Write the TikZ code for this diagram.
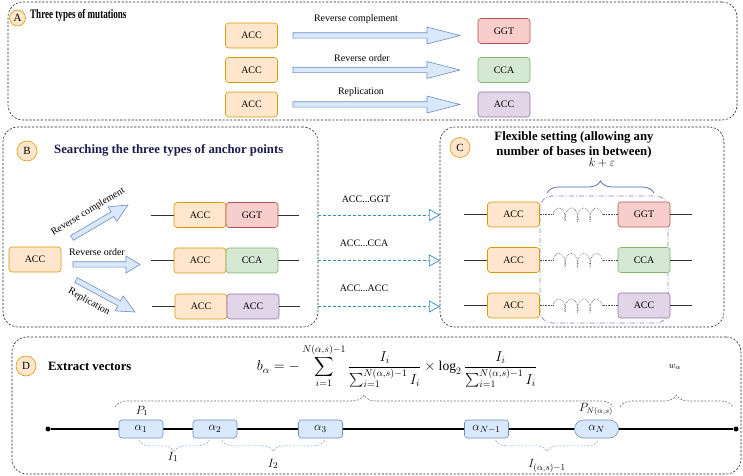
\documentclass[tikz,border=0pt]{standalone}
\usepackage{amsmath}
\usepackage{amssymb}
\usepackage{graphicx}
\usepackage{fontspec}
\setmainfont{Liberation Serif}
\usetikzlibrary{calc, arrows.meta, decorations.pathreplacing, decorations.pathmorphing}

\definecolor{accfill}{HTML}{FFE6CC}\definecolor{accdraw}{HTML}{D79B00}
\definecolor{ggtfill}{HTML}{F8CECC}\definecolor{ggtdraw}{HTML}{B85450}
\definecolor{ccafill}{HTML}{D5E8D4}\definecolor{ccadraw}{HTML}{82B366}
\definecolor{repfill}{HTML}{E1D5E7}\definecolor{repdraw}{HTML}{9673A6}
\definecolor{bluefill}{HTML}{DAE8FC}\definecolor{bluedraw}{HTML}{6C8EBF}
\definecolor{navy}{HTML}{1B1B4F}
\definecolor{hopblue}{HTML}{2F8FC4}
\definecolor{winblue}{HTML}{7A86CE}
\definecolor{kblue}{HTML}{4A5DBA}
\definecolor{lightbrace}{HTML}{8EA9DB}

% fat outlined arrow: tail, tip, head length
\newcommand{\fatarrow}[3]{%
  \coordinate (fa-h) at ($(#2)!#3!(#1)$);
  \draw[fat] ($(#1)!2.7bp!90:(#2)$) -- ($(fa-h)!2.7bp!90:(#2)$)
    -- ($(fa-h)!8.5bp!90:(#2)$) -- (#2) -- ($(fa-h)!8.5bp!-90:(#2)$)
    -- ($(fa-h)!2.7bp!-90:(#2)$) -- ($(#1)!2.7bp!-90:(#2)$) -- cycle;}

\begin{document}
\begin{tikzpicture}[x=1bp, y=-1bp,
  every node/.style={font=\fontsize{10}{12}\selectfont},
  panel/.style={draw=black!85, dash pattern=on 2.2pt off 1.6pt, line width=0.6pt,
    rounded corners=15bp, inner sep=0pt, outer sep=0pt},
  tag/.style={circle, draw=accdraw, fill=accfill, line width=0.6pt, minimum size=20bp,
    inner sep=0pt, font=\fontsize{11}{11}\selectfont},
  title/.style={anchor=west, inner sep=0pt, font=\fontsize{12.8}{15}\selectfont\bfseries},
  seq/.style={draw, rounded corners=3bp, line width=0.6pt, minimum width=52bp,
    minimum height=25bp, inner sep=0pt},
  acc/.style={seq, fill=accfill, draw=accdraw},
  ggt/.style={seq, fill=ggtfill, draw=ggtdraw},
  cca/.style={seq, fill=ccafill, draw=ccadraw},
  rep/.style={seq, fill=repfill, draw=repdraw},
  fat/.style={fill=bluefill, draw=bluedraw, line width=0.6pt},
  strand/.style={draw=black!80, line width=0.7pt},
  gap/.style={draw=black!70, line width=0.6pt, densely dotted},
  spring/.style={gap, decorate, decoration={coil, amplitude=6.5bp, segment length=12.5bp, aspect=0.45}},
  hop/.style={draw=hopblue, dash pattern=on 3pt off 2pt, line width=0.7pt,
    -{Triangle[open, length=11bp, width=12bp]}},
  window/.style={draw=winblue, line width=0.7pt, rounded corners=12bp,
    dash pattern=on 5pt off 2pt on 1pt off 2pt},
  kbrace/.style={draw=kblue, line width=0.7pt, decorate, decoration={brace, amplitude=12bp}},
  topbrace/.style={draw=black!55, line width=0.6pt, dash pattern=on 2pt off 1.5pt,
    decorate, decoration={brace, amplitude=12bp}},
  lowbrace/.style={draw=lightbrace, line width=0.6pt, dash pattern=on 2pt off 1.5pt,
    decorate, decoration={brace, mirror, amplitude=11bp}},
  site/.style={draw=bluedraw, fill=bluefill, line width=0.6pt, rounded corners=3bp,
    minimum width=44bp, minimum height=18bp, inner sep=0pt, font=\fontsize{13}{13}\selectfont},
  dot/.style={circle, fill=black, inner sep=0pt, minimum size=5bp},
  axis/.style={draw=black, line width=1.2pt},
  mlabel/.style={font=\fontsize{13}{13}\selectfont}]
\useasboundingbox (0,0) rectangle (743,476);

% panels
\node[panel, minimum width=729bp, minimum height=118bp] (pA) at (372.5,61) {};
\node[panel, minimum width=315bp, minimum height=200bp] (pB) at (160.5,227) {};
\node[panel, minimum width=284bp, minimum height=200bp] (pC) at (582,227) {};
\node[panel, minimum width=729bp, minimum height=137bp] (pD) at (376.5,405.5) {};

\node[tag, minimum size=16bp] (tA) at (17.5,18) {A};
\node[anchor=west, inner sep=0pt, font=\fontsize{13}{13}\selectfont\bfseries] (hA) at (30,15)
  {\scalebox{0.7}[1]{Three types of mutations}};
\node[tag] (tB) at (27,151) {B};
\node[title, text=navy] (hB) at (54,150) {Searching the three types of anchor points};
\node[tag] (tC) at (460,147.5) {C};
\node[title, anchor=center, align=center] (hC) at (574,144.5)
  {Flexible setting (allowing any\\number of bases in between)};
\node[tag] (tD) at (26,366) {D};
\node[title] (hD) at (48,366) {Extract vectors};

% A: three types of mutations
\node[acc] (a1l) at (251.5,35.5) {ACC};
\node[acc] (a2l) at (251.5,70) {ACC};
\node[acc] (a3l) at (251.5,104.5) {ACC};
\node[ggt] (a1r) at (504,31) {GGT};
\node[cca] (a2r) at (504,70) {CCA};
\node[rep] (a3r) at (504,104.5) {ACC};
\coordinate (a1s) at (293,35.5); \coordinate (a1t) at (460,35.5);
\coordinate (a2s) at (293,70); \coordinate (a2t) at (460,70);
\coordinate (a3s) at (293,104.5); \coordinate (a3t) at (460,104.5);
\fatarrow{a1s}{a1t}{33bp}
\fatarrow{a2s}{a2t}{33bp}
\fatarrow{a3s}{a3t}{33bp}
\node (a1lab) at (356,19) {Reverse complement};
\node (a2lab) at (362,58) {Reverse order};
\node (a3lab) at (361,92) {Replication};

% B: anchor points
\node[acc] (bsrc) at (35,259.5) {ACC};
\coordinate (bu0) at (72,238); \coordinate (bu1) at (128,205);
\coordinate (bm0) at (73,264.5); \coordinate (bm1) at (140,264.5);
\coordinate (bd0) at (76,280); \coordinate (bd1) at (135,312);
\fatarrow{bu0}{bu1}{18bp}
\fatarrow{bm0}{bm1}{14bp}
\fatarrow{bd0}{bd1}{18bp}
\node[rotate=31] (bulab) at (88,212) {Reverse complement};
\node (bmlab) at (97,252) {Reverse order};
\node[rotate=-29] (bdlab) at (89,302) {Replication};

\node[acc] (b1a) at (200,215) {ACC};
\node[ggt] (b1b) at (252,215) {GGT};
\node[acc] (b2a) at (200,260.5) {ACC};
\node[cca] (b2b) at (252,260.5) {CCA};
\node[acc] (b3a) at (201,306.5) {ACC};
\node[rep] (b3b) at (253,306.5) {ACC};
\draw[strand] (b1a.west) -- ++(-23,0);
\draw[strand] (b1b.east) -- ++(21,0);
\draw[strand] (b2a.west) -- ++(-23,0);
\draw[strand] (b2b.east) -- ++(21,0);
\draw[strand] (b3a.west) -- ++(-23,0);
\draw[strand] (b3b.east) -- ++(21,0);

% B to C
\draw[hop] (pB.east |- b1b) -- (pC.west |- b1b);
\draw[hop] (pB.east |- b2b) -- (pC.west |- b2b);
\draw[hop] (pB.east |- b3b) -- (pC.west |- b3b);
\node (h1lab) at (366,199) {ACC...GGT};
\node (h2lab) at (364,243) {ACC...CCA};
\node (h3lab) at (364,288) {ACC...ACC};

% C: flexible setting
\draw[window] (540,196) rectangle (668,323);
\node[acc] (c1a) at (513.5,214.5) {ACC};
\node[ggt] (c1b) at (644,214.5) {GGT};
\node[acc] (c2a) at (513.5,260) {ACC};
\node[cca] (c2b) at (644,260) {CCA};
\node[acc] (c3a) at (513.5,305.5) {ACC};
\node[rep] (c3b) at (644,305.5) {ACC};
\draw[strand] (c1a.west) -- ++(-23,0);
\draw[strand] (c1b.east) -- ++(22,0);
\draw[strand] (c2a.west) -- ++(-23,0);
\draw[strand] (c2b.east) -- ++(22,0);
\draw[strand] (c3a.west) -- ++(-23,0);
\draw[strand] (c3b.east) -- ++(22,0);
\draw[gap] (c1a.east) -- ++(13,0) coordinate (c1s);
\draw[spring] (c1s) -- ++(50,0) coordinate (c1t);
\draw[gap] (c1t) -- (c1b.west);
\draw[gap] (c2a.east) -- ++(13,0) coordinate (c2s);
\draw[spring] (c2s) -- ++(50,0) coordinate (c2t);
\draw[gap] (c2t) -- (c2b.west);
\draw[gap] (c3a.east) -- ++(13,0) coordinate (c3s);
\draw[spring] (c3s) -- ++(50,0) coordinate (c3t);
\draw[gap] (c3t) -- (c3b.west);
\coordinate (k0) at (547,193); \coordinate (k1) at (654,193);
\draw[kbrace] (k0) -- (k1);
\node[mlabel] (klab) at (602,163) {$k+\varepsilon$};

% D: extract vectors
\node[font=\fontsize{13.6}{15}\selectfont] (form) at (397,366)
  {$\displaystyle b_\alpha=-\sum_{i=1}^{N(\alpha,s)-1}\frac{I_i}{\sum_{i=1}^{N(\alpha,s)-1}I_i}
   \times\log_2\frac{I_i}{\sum_{i=1}^{N(\alpha,s)-1}I_i}$};
\node[dot] (d0) at (48,429) {};
\node[dot] (d1) at (736,429) {};
\draw[axis] (d0) -- (d1);
\node[site] (s1) at (141,429) {$\alpha_1$};
\node[site] (s2) at (215,429) {$\alpha_2$};
\node[site] (s3) at (320.5,429) {$\alpha_3$};
\node[site] (s4) at (486.5,429) {$\alpha_{N-1}$};
\node[site, rounded corners=9bp] (s5) at (596.5,429) {$\alpha_N$};
\node[font=\fontsize{12}{12}\selectfont] (p1) at (142,411) {$P_1$};
\node[font=\fontsize{12}{12}\selectfont] (pn) at (596,409) {$P_{N(\alpha,s)}$};
\coordinate (g0) at (115,407); \coordinate (g1) at (613,407);
\coordinate (g2) at (620,407); \coordinate (g3) at (733,407);
\draw[topbrace] (g0) -- (g1);
\draw[topbrace] (g2) -- (g3);
\node[font=\fontsize{9.5}{9.5}\selectfont] (wlab) at (675,367) {$w_\alpha$};
\path (s1.south) ++(-2,2) coordinate (i0) (s2.south) ++(-6,2) coordinate (i1);
\draw[lowbrace] (i0) -- (i1);
\path (s2.south) ++(7,2) coordinate (i2) (s3.south) ++(4,2) coordinate (i3);
\draw[lowbrace] (i2) -- (i3);
\path (s4.south) ++(9,2) coordinate (i4) (s5.south) ++(2,2) coordinate (i5);
\draw[lowbrace] (i4) -- (i5);
\node[mlabel] (ilab1) at (173,457) {$I_1$};
\node[mlabel] (ilab2) at (273,464) {$I_2$};
\node[mlabel] (ilab3) at (547,466) {$I_{(\alpha,s)-1}$};
\end{tikzpicture}
\end{document}
